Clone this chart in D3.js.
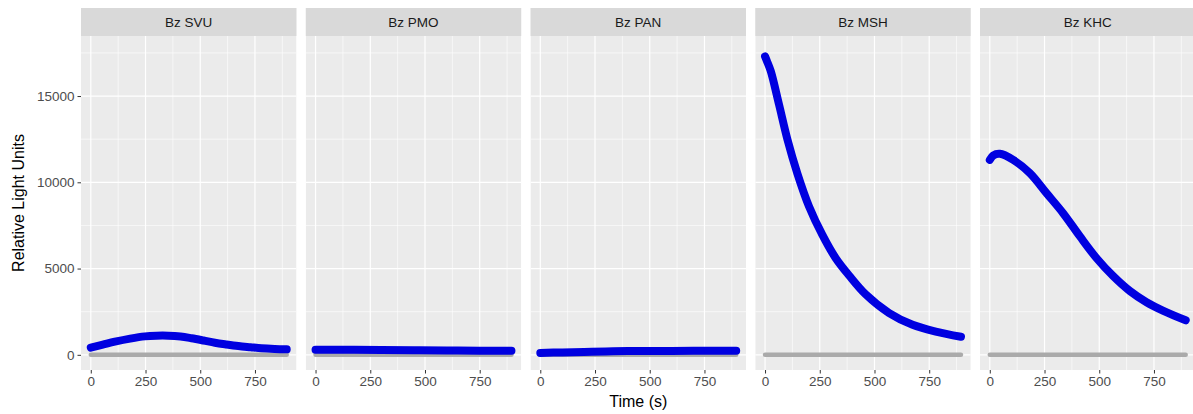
<!DOCTYPE html>
<html>
<head>
<meta charset="utf-8">
<script src="https://cdn.jsdelivr.net/npm/d3@7"></script>
<style>
  body { margin: 0; background: #fff; }
  text { font-family: "Liberation Sans", Arial, sans-serif; }
</style>
</head>
<body>
<script>
var svg_width  = 1193;
var svg_height = 414;

// facet names
var panels = ["Bz SVU", "Bz PMO", "Bz PAN", "Bz MSH", "Bz KHC"];

// time (s) and relative light units per sample
var svuTime = [0, 55, 110, 180, 247, 300, 354, 410, 460, 515, 567, 620, 674, 730, 780, 840, 895];
var svuRlu  = [420, 590, 760, 940, 1070, 1110, 1110, 1060, 960, 830, 700, 600, 510, 440, 380, 340, 320];

var pmoTime = [0, 150, 300, 450, 600, 750, 895];
var pmoRlu  = [290, 290, 280, 270, 255, 240, 230];

var panTime = [0, 100, 200, 300, 400, 550, 700, 895];
var panRlu  = [110, 140, 170, 195, 215, 225, 230, 230];

var mshTime = [0, 8, 26, 64, 102, 148, 201, 262, 323, 384, 460, 567, 674, 780, 895];
var mshRlu  = [17300, 17050, 16450, 14500, 12500, 10500, 8600, 6950, 5600, 4600, 3500, 2420, 1740, 1350, 1050];

var khcTime = [0, 15, 46, 107, 183, 259, 335, 412, 488, 564, 640, 716, 793, 895];
var khcRlu  = [11300, 11550, 11650, 11300, 10530, 9370, 8210, 6860, 5600, 4560, 3700, 3050, 2550, 2000];

// grey baseline (blank) shown in every facet
var blankTime = [0, 895];
var blankRlu  = [0, 0];

var xTicks = [0, 250, 500, 750];
var xMinor = [125, 375, 625, 875];
var yTicks = [0, 5000, 10000, 15000];
var yMinor = [2500, 7500, 12500, 17500];

var series = [
  {t: svuTime, v: svuRlu},
  {t: pmoTime, v: pmoRlu},
  {t: panTime, v: panRlu},
  {t: mshTime, v: mshRlu},
  {t: khcTime, v: khcRlu}
];

//layout
var plotLeft = 81, panelW = 215.5, gap = 9.25;
var stripTop = 8, stripH = 28;
var panelTop = stripTop + stripH, panelBottom = 370;

var svg = d3.select('body').append('svg')
            .attr('width', svg_width)
            .attr('height', svg_height);

// ggplot style 5% expansion on both scales
function expand(ext) {
  var pad = (ext[1] - ext[0]) * 0.05;
  return [ext[0] - pad, ext[1] + pad];
}
var allT = d3.merge(series.map(d => d.t)).concat(blankTime);
var allV = d3.merge(series.map(d => d.v)).concat(blankRlu);
allV.push(17600); // top of the scatter at the MSH start

var y = d3.scaleLinear()
          .domain(expand(d3.extent(allV)))
          .range([panelBottom, panelTop]);

var line = d3.line()
             .curve(d3.curveCatmullRom.alpha(0.5));

panels.forEach(function(name, i) {
  var left = plotLeft + i * (panelW + gap);
  var x = d3.scaleLinear()
            .domain(expand(d3.extent(allT)))
            .range([left, left + panelW]);

  var g = svg.append("g");

  // panel background
  g.append("rect")
   .attr("x", left).attr("y", panelTop)
   .attr("width", panelW).attr("height", panelBottom - panelTop)
   .attr("fill", "#ebebeb");

  // minor grid
  g.selectAll(".xminor").data(xMinor).enter().append("line")
   .attr("x1", d => x(d)).attr("x2", d => x(d))
   .attr("y1", panelTop).attr("y2", panelBottom)
   .attr("stroke", "#fff").attr("stroke-width", 0.6);
  g.selectAll(".yminor").data(yMinor).enter().append("line")
   .attr("x1", left).attr("x2", left + panelW)
   .attr("y1", d => y(d)).attr("y2", d => y(d))
   .attr("stroke", "#fff").attr("stroke-width", 0.6);

  // major grid
  g.selectAll(".xmajor").data(xTicks).enter().append("line")
   .attr("x1", d => x(d)).attr("x2", d => x(d))
   .attr("y1", panelTop).attr("y2", panelBottom)
   .attr("stroke", "#fff").attr("stroke-width", 1.2);
  g.selectAll(".ymajor").data(yTicks).enter().append("line")
   .attr("x1", left).attr("x2", left + panelW)
   .attr("y1", d => y(d)).attr("y2", d => y(d))
   .attr("stroke", "#fff").attr("stroke-width", 1.2);

  // grey blank line
  var blank = blankTime.map((t, k) => [x(t), y(blankRlu[k])]);
  g.append("path")
   .attr("d", line(blank))
   .attr("fill", "none")
   .attr("stroke", "#aaaaaa")
   .attr("stroke-width", 4.5)
   .attr("stroke-linecap", "round");

  // sample trace, thick like the dense geom_point band
  var s = series[i];
  var pts = s.t.map((t, k) => [x(t), y(s.v[k])]);
  g.append("path")
   .attr("d", line(pts))
   .attr("fill", "none")
   .attr("stroke", "#0000e0")
   .attr("stroke-width", 8)
   .attr("stroke-linecap", "round")
   .attr("stroke-linejoin", "round");

  // clip anything drawn outside the panel area
  var clipId = "clip" + i;
  svg.append("clipPath").attr("id", clipId)
     .append("rect")
     .attr("x", left).attr("y", panelTop)
     .attr("width", panelW).attr("height", panelBottom - panelTop);
  g.attr("clip-path", "url(#" + clipId + ")");

  // strip
  svg.append("rect")
     .attr("x", left).attr("y", stripTop)
     .attr("width", panelW).attr("height", stripH)
     .attr("fill", "#d9d9d9");
  svg.append("text")
     .attr("x", left + panelW / 2).attr("y", stripTop + stripH / 2 + 5)
     .attr("text-anchor", "middle")
     .attr("font-size", 13.5)
     .attr("fill", "#1a1a1a")
     .text(name);

  // x axis
  var xAxis = svg.append("g")
     .attr("transform", "translate(0," + panelBottom + ")")
     .call(d3.axisBottom(x).tickValues(xTicks).tickFormat(d3.format("d")).tickSize(3.5).tickPadding(3));
  xAxis.select(".domain").remove();
  xAxis.selectAll("line").attr("stroke", "#333333");
  xAxis.selectAll("text")
       .attr("font-size", 13.5)
       .attr("font-family", "Liberation Sans, Arial, sans-serif")
       .attr("fill", "#4d4d4d");
});

// y axis on the first facet only
var yAxis = svg.append("g")
   .attr("transform", "translate(" + plotLeft + ",0)")
   .call(d3.axisLeft(y).tickValues(yTicks).tickFormat(d3.format("d")).tickSize(3.5).tickPadding(3));
yAxis.select(".domain").remove();
yAxis.selectAll("line").attr("stroke", "#333333");
yAxis.selectAll("text")
     .attr("font-size", 13.5)
     .attr("font-family", "Liberation Sans, Arial, sans-serif")
     .attr("fill", "#4d4d4d");

// axis titles
var plotRight = plotLeft + 5 * panelW + 4 * gap;
svg.append("text")
   .attr("x", (plotLeft + plotRight) / 2)
   .attr("y", 407)
   .attr("text-anchor", "middle")
   .attr("font-size", 16)
   .attr("fill", "#000")
   .text("Time (s)");

svg.append("text")
   .attr("transform", "translate(24," + (panelTop + panelBottom) / 2 + ") rotate(-90)")
   .attr("text-anchor", "middle")
   .attr("font-size", 16)
   .attr("fill", "#000")
   .text("Relative Light Units");
</script>
</body>
</html>
